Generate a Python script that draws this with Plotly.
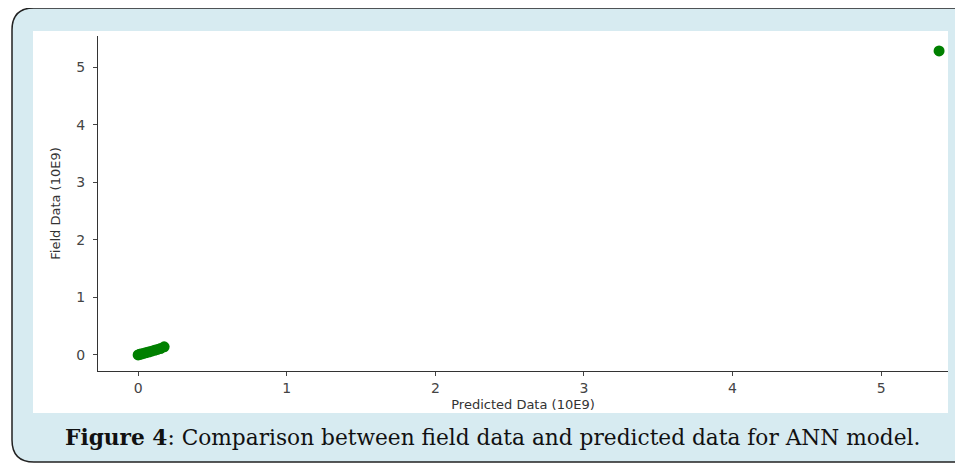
import plotly.graph_objects as go

# Data (units of 10E9)
predicted = [0.00, 0.01, 0.02, 0.035, 0.05, 0.07, 0.09, 0.11, 0.13, 0.15, 0.175, 5.39]
field = [0.00, 0.01, 0.015, 0.025, 0.035, 0.05, 0.065, 0.08, 0.095, 0.11, 0.14, 5.28]
x_ticks = [0, 1, 2, 3, 4, 5]
y_ticks = [0, 1, 2, 3, 4, 5]

OFF = 8  # page body margin
W, H = 963 - OFF, 463 - OFF
# plot area in reference pixels
L, R, T, B = 98, 948, 36, 371
pw, ph = R - L, B - T


def px(x):
    return (x - L) / pw


def py(y):
    return (B - y) / ph


fig = go.Figure()
fig.add_trace(go.Scatter(
    x=predicted, y=field, mode="markers",
    marker=dict(color="#008000", size=11, line=dict(width=0)),
    showlegend=False, cliponaxis=False,
))

# rounded outer frame path
x0, x1, y0, y1, r = 12, 980, 8, 462, 22
path = (f"M {px(x0)},{py(y0 + r)} "
        f"Q {px(x0)},{py(y0)} {px(x0 + r)},{py(y0)} "
        f"L {px(x1)},{py(y0)} L {px(x1)},{py(y1)} "
        f"L {px(x0 + r)},{py(y1)} "
        f"Q {px(x0)},{py(y1)} {px(x0)},{py(y1 - r)} Z")

shapes = [
    dict(type="path", xref="paper", yref="paper", path=path,
         fillcolor="#d7ebf1", line=dict(color="#222222", width=1.5), layer="below"),
    dict(type="rect", xref="paper", yref="paper",
         x0=px(33), x1=px(948), y0=py(413), y1=py(31),
         fillcolor="white", line=dict(width=0), layer="below"),
]

fig.update_layout(
    width=W, height=H,
    margin=dict(l=L - OFF, r=963 - R, t=T - OFF, b=463 - B),
    paper_bgcolor="white",
    plot_bgcolor="white",
    shapes=shapes,
    font=dict(family="DejaVu Sans", size=14, color="#444444"),
    xaxis=dict(
        range=[-0.27, 5.45], tickvals=x_ticks, ticktext=[str(v) for v in x_ticks],
        showgrid=False, zeroline=False, showline=True, linecolor="#333333", linewidth=1.2,
        ticks="outside", ticklen=4, tickcolor="#444444",
        title=dict(text="Predicted Data (10E9)", font=dict(size=13, color="#333333"), standoff=4),
    ),
    yaxis=dict(
        range=[-0.28, 5.54], tickvals=y_ticks, ticktext=[str(v) for v in y_ticks],
        showgrid=False, zeroline=False, showline=True, linecolor="#333333", linewidth=1.2,
        ticks="outside", ticklen=4, tickcolor="#444444", ticklabelstandoff=5,
        title=dict(text="Field Data (10E9)", font=dict(size=13, color="#333333"), standoff=12),
    ),
    annotations=[
        dict(xref="paper", yref="paper", x=px(492), y=py(437), xanchor="center", yanchor="middle",
             text="<b>Figure 4</b>: Comparison between field data and predicted data for ANN model.",
             showarrow=False, font=dict(family="DejaVu Serif", size=21.7, color="#111111")),
    ],
)

fig.write_html("out.html")
